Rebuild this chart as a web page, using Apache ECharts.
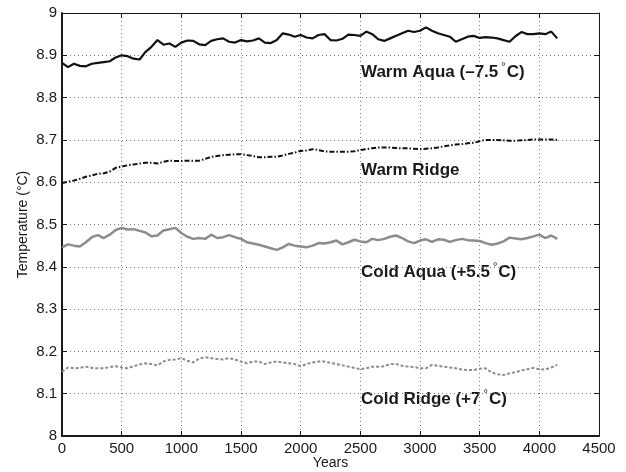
<!DOCTYPE html>
<html>
<head>
<meta charset="utf-8">
<script src="https://cdn.jsdelivr.net/npm/echarts@6/dist/echarts.min.js"></script>
<style>
  html, body { margin: 0; padding: 0; background: #fff; }
  #chart { width: 626px; height: 472px; }
</style>
</head>
<body>
<div id="chart"></div>
<script>
// Sample years (every 50 years of the run)
const years = [
  0, 50, 100, 150, 200, 250, 300, 350, 400, 450,
  500, 550, 600, 650, 700, 750, 800, 850, 900, 950,
  1000, 1050, 1100, 1150, 1200, 1250, 1300, 1350, 1400, 1450,
  1500, 1550, 1600, 1650, 1700, 1750, 1800, 1850, 1900, 1950,
  2000, 2050, 2100, 2150, 2200, 2250, 2300, 2350, 2400, 2450,
  2500, 2550, 2600, 2650, 2700, 2750, 2800, 2850, 2900, 2950,
  3000, 3050, 3100, 3150, 3200, 3250, 3300, 3350, 3400, 3450,
  3500, 3550, 3600, 3650, 3700, 3750, 3800, 3850, 3900, 3950,
  4000, 4050, 4100, 4150
];

// Warm Aqua (shifted by -7.5 °C)
const warmAqua = [
  8.882, 8.872, 8.880, 8.875, 8.874, 8.880, 8.882, 8.884, 8.886, 8.895,
  8.900, 8.898, 8.892, 8.890, 8.908, 8.920, 8.936, 8.925, 8.928, 8.920,
  8.930, 8.935, 8.934, 8.926, 8.924, 8.934, 8.938, 8.940, 8.932, 8.930,
  8.936, 8.933, 8.935, 8.940, 8.930, 8.929, 8.936, 8.952, 8.949, 8.944,
  8.948, 8.942, 8.940, 8.948, 8.950, 8.936, 8.935, 8.939, 8.949, 8.948,
  8.946, 8.956, 8.950, 8.938, 8.934, 8.940, 8.946, 8.952, 8.958, 8.955,
  8.958, 8.966, 8.958, 8.952, 8.948, 8.944, 8.932, 8.938, 8.944, 8.946,
  8.941, 8.943, 8.942, 8.940, 8.936, 8.932, 8.945, 8.955, 8.950, 8.950,
  8.952, 8.950, 8.956, 8.940
];

// Warm Ridge
const warmRidge = [
  8.598, 8.601, 8.604, 8.608, 8.613, 8.616, 8.620, 8.621, 8.625, 8.634,
  8.637, 8.640, 8.642, 8.644, 8.646, 8.646, 8.644, 8.648, 8.651, 8.650,
  8.650, 8.651, 8.651, 8.651, 8.655, 8.660, 8.662, 8.664, 8.665, 8.666,
  8.666, 8.664, 8.662, 8.659, 8.659, 8.660, 8.660, 8.663, 8.667, 8.670,
  8.674, 8.675, 8.678, 8.676, 8.673, 8.672, 8.672, 8.672, 8.672, 8.673,
  8.676, 8.678, 8.680, 8.682, 8.682, 8.682, 8.681, 8.680, 8.680, 8.679,
  8.678, 8.679, 8.680, 8.682, 8.685, 8.687, 8.689, 8.690, 8.692, 8.693,
  8.697, 8.700, 8.700, 8.700, 8.699, 8.698, 8.698, 8.699, 8.700, 8.701,
  8.701, 8.701, 8.701, 8.700
];

// Cold Aqua (shifted by +5.5 °C)
const coldAqua = [
  8.446, 8.453, 8.450, 8.448, 8.458, 8.470, 8.475, 8.468, 8.476, 8.487,
  8.492, 8.488, 8.489, 8.485, 8.481, 8.472, 8.474, 8.486, 8.489, 8.492,
  8.480, 8.471, 8.466, 8.468, 8.466, 8.476, 8.468, 8.470, 8.475, 8.470,
  8.466, 8.458, 8.455, 8.452, 8.448, 8.444, 8.440, 8.446, 8.454, 8.450,
  8.448, 8.446, 8.450, 8.456, 8.455, 8.458, 8.462, 8.453, 8.458, 8.464,
  8.460, 8.458, 8.466, 8.463, 8.466, 8.471, 8.474, 8.468, 8.460, 8.456,
  8.462, 8.465, 8.459, 8.465, 8.464, 8.459, 8.463, 8.466, 8.463, 8.462,
  8.461, 8.456, 8.452, 8.455, 8.460, 8.469, 8.467, 8.465, 8.468, 8.472,
  8.476, 8.468, 8.474, 8.466
];

// Cold Ridge (shifted by +7 °C)
const coldRidge = [
  8.152, 8.162, 8.160, 8.161, 8.164, 8.161, 8.160, 8.160, 8.163, 8.165,
  8.162, 8.160, 8.165, 8.169, 8.172, 8.170, 8.167, 8.176, 8.180, 8.181,
  8.184, 8.178, 8.174, 8.183, 8.186, 8.184, 8.182, 8.181, 8.184, 8.181,
  8.176, 8.172, 8.176, 8.176, 8.170, 8.174, 8.176, 8.174, 8.172, 8.170,
  8.165, 8.170, 8.174, 8.176, 8.176, 8.173, 8.170, 8.167, 8.164, 8.161,
  8.158, 8.160, 8.164, 8.164, 8.165, 8.170, 8.170, 8.166, 8.164, 8.163,
  8.160, 8.160, 8.168, 8.166, 8.164, 8.162, 8.160, 8.157, 8.156, 8.156,
  8.159, 8.160, 8.150, 8.146, 8.144, 8.148, 8.151, 8.155, 8.158, 8.161,
  8.158, 8.157, 8.162, 8.168
];

const FONT = '"Liberation Sans", Arial, Helvetica, sans-serif';

function pairs(ys) {
  return years.map((x, i) => [x, ys[i]]);
}

const chart = echarts.init(document.getElementById('chart'), null, { renderer: 'canvas' });

const dotted = { show: true, lineStyle: { color: '#7a7a7a', width: 1, type: [1, 3] } };

// In-plot series annotation; the degree sign is set as a small raised token
function annot(top, pre, hasDeg, post) {
  return {
    type: 'text',
    left: 361,
    top: top,
    style: {
      text: hasDeg ? '{a|' + pre + '}{d|°}{a|' + post + '}' : '{a|' + pre + '}',
      rich: {
        a: { font: 'bold 17px ' + FONT, fill: '#1a1a1a', lineHeight: 20 },
        d: { font: 'normal 11px ' + FONT, fill: '#1a1a1a', lineHeight: 11, padding: [0, 1, 12, 3] }
      }
    }
  };
}

chart.setOption({
  animation: false,
  backgroundColor: '#ffffff',
  grid: {
    left: 62, right: 27, top: 13, bottom: 36, show: false,
    containLabel: false, outerBoundsMode: 'none'
  },
  xAxis: [
    {
      type: 'value', min: 0, max: 4500, interval: 500, position: 'bottom',
      name: 'Years', nameLocation: 'middle', nameGap: 20, nameMoveOverlap: false,
      nameTextStyle: { fontFamily: FONT, fontSize: 14, color: '#1a1a1a' },
      axisLine: { show: true, onZero: false, lineStyle: { color: '#1a1a1a', width: 2 } },
      axisTick: { show: true, inside: true, length: 5, lineStyle: { color: '#1a1a1a', width: 1 } },
      axisLabel: { fontFamily: FONT, fontSize: 15, color: '#1a1a1a', margin: 5, formatter: v => String(v) },
      splitLine: dotted
    },
    {
      type: 'value', min: 0, max: 4500, interval: 500, position: 'top',
      axisLine: { show: true, onZero: false, lineStyle: { color: '#1a1a1a', width: 1 } },
      axisTick: { show: true, inside: true, length: 5, lineStyle: { color: '#1a1a1a', width: 1 } },
      axisLabel: { show: false },
      splitLine: { show: false }
    }
  ],
  yAxis: [
    {
      type: 'value', min: 8, max: 9, interval: 0.1, position: 'left',
      name: 'Temperature (°C)', nameLocation: 'middle', nameGap: 32, nameRotate: 90,
      nameMoveOverlap: false,
      nameTextStyle: { fontFamily: FONT, fontSize: 14, color: '#1a1a1a' },
      axisLine: { show: true, onZero: false, lineStyle: { color: '#1a1a1a', width: 2 } },
      axisTick: { show: true, inside: true, length: 5, lineStyle: { color: '#1a1a1a', width: 1 } },
      axisLabel: {
        fontFamily: FONT, fontSize: 15, color: '#1a1a1a', margin: 5,
        formatter: v => (Math.abs(v - Math.round(v)) < 1e-6 ? String(Math.round(v)) : v.toFixed(1))
      },
      splitLine: dotted
    },
    {
      type: 'value', min: 8, max: 9, interval: 0.1, position: 'right',
      axisLine: { show: true, onZero: false, lineStyle: { color: '#1a1a1a', width: 1 } },
      axisTick: { show: true, inside: true, length: 5, lineStyle: { color: '#1a1a1a', width: 1 } },
      axisLabel: { show: false },
      splitLine: { show: false }
    }
  ],
  series: [
    {
      name: 'Warm Aqua', type: 'line', data: pairs(warmAqua), showSymbol: false, symbol: 'none',
      lineStyle: { color: '#111111', width: 2.2 }, z: 5
    },
    {
      name: 'Warm Ridge', type: 'line', data: pairs(warmRidge), showSymbol: false, symbol: 'none',
      lineStyle: { color: '#111111', width: 2, type: [5, 2, 1.5, 2] }, z: 5
    },
    {
      name: 'Cold Aqua', type: 'line', data: pairs(coldAqua), showSymbol: false, symbol: 'none',
      lineStyle: { color: '#8c8c8c', width: 2.5 }, z: 5
    },
    {
      name: 'Cold Ridge', type: 'line', data: pairs(coldRidge), showSymbol: false, symbol: 'none',
      lineStyle: { color: '#8c8c8c', width: 2, type: [3, 2] }, z: 5
    }
  ],
  graphic: [
    annot(61, 'Warm Aqua (–7.5', true, 'C)'),
    annot(162, 'Warm Ridge', false, ''),
    annot(261, 'Cold Aqua (+5.5', true, 'C)'),
    annot(388, 'Cold Ridge (+7', true, 'C)')
  ]
});
</script>
</body>
</html>
